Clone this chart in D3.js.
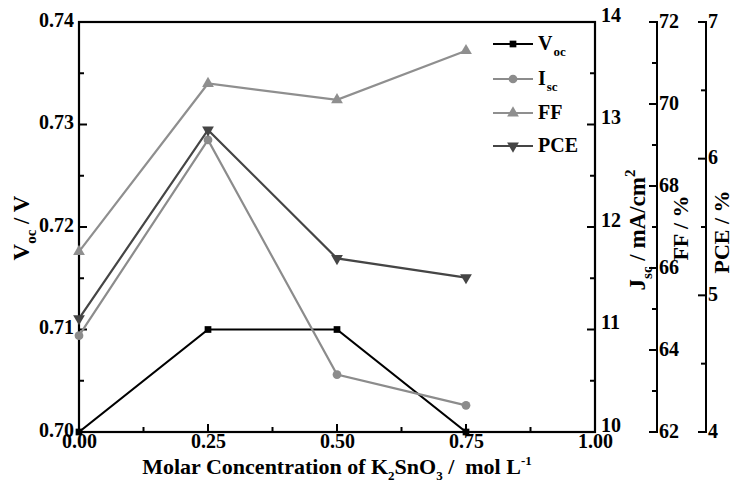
<!DOCTYPE html>
<html><head><meta charset="utf-8">
<script src="https://cdn.jsdelivr.net/npm/d3@7/dist/d3.min.js"></script>
<style>
body{margin:0;background:#fff;}
text{font-family:"Liberation Serif","Times New Roman",serif;font-weight:bold;}
</style></head>
<body><svg id="c" width="734" height="485"></svg>
<script>
const conc = [0.00, 0.25, 0.50, 0.75];
const voc = [0.700, 0.710, 0.710, 0.700];
const jsc = [10.94, 12.85, 10.56, 10.26];
const ff = [66.4, 70.5, 70.1, 71.3];
const pce = [4.83, 6.21, 5.27, 5.13];
const xTicks = [0, 0.25, 0.5, 0.75, 1.0];
const vocTicks = [0.70, 0.71, 0.72, 0.73, 0.74];
const jscTicks = [10, 11, 12, 13, 14];
const ffTicks = [62, 64, 66, 68, 70, 72];
const pceTicks = [4, 5, 6, 7];

const svg = d3.select("#c");
const L = 79, R = 595, T = 22, B = 432;
const FS = 20;
const x = d3.scaleLinear().domain([0, 1]).range([L, R]);
const yV = d3.scaleLinear().domain([0.70, 0.74]).range([B, T]);
const yJ = d3.scaleLinear().domain([10, 14]).range([B, T]);
const yF = d3.scaleLinear().domain([62, 72]).range([B, T]);
const yP = d3.scaleLinear().domain([4, 7]).range([B, T]);
const ffX = 657, pceX = 706;

function styleAxis(g, fs) {
  g.select(".domain").remove();
  g.selectAll(".tick line").remove();
  g.selectAll(".tick text").attr("font-size", fs).attr("fill", "#000").attr("font-family", "Liberation Serif").attr("font-weight", "bold");
}
function tickLine(x1, y1, x2, y2) {
  svg.append("line").attr("x1", x1).attr("y1", y1).attr("x2", x2).attr("y2", y2).attr("stroke", "#000").attr("stroke-width", 2);
}

// bottom axis: ticks inward
const gx = svg.append("g").attr("transform", `translate(0,${B})`)
  .call(d3.axisBottom(x).tickValues(xTicks).tickFormat(d3.format(".2f")).tickSize(0).tickPadding(2));
styleAxis(gx, FS);
xTicks.forEach(v => tickLine(x(v), B, x(v), B - 8));
[0.125, 0.375, 0.625, 0.875].forEach(v => tickLine(x(v), B, x(v), B - 5));

// left axis
const gy = svg.append("g").attr("transform", `translate(${L},0)`)
  .call(d3.axisLeft(yV).tickValues(vocTicks).tickFormat(d3.format(".2f")).tickSize(0).tickPadding(5));
styleAxis(gy, FS);
gy.selectAll(".tick text").attr("dy", "0.2em");
vocTicks.forEach(v => tickLine(L, yV(v), L + 8, yV(v)));
[0.705, 0.715, 0.725, 0.735].forEach(v => tickLine(L, yV(v), L + 5, yV(v)));

// right Jsc axis
const gj = svg.append("g").attr("transform", `translate(${R},0)`)
  .call(d3.axisRight(yJ).tickValues(jscTicks).tickFormat(d3.format("d")).tickSize(0).tickPadding(6));
styleAxis(gj, FS);
gj.selectAll(".tick text").attr("dy", "-0.05em");
jscTicks.forEach(v => tickLine(R, yJ(v), R - 8, yJ(v)));
[10.5, 11.5, 12.5, 13.5].forEach(v => tickLine(R, yJ(v), R - 5, yJ(v)));

// frame
svg.append("rect").attr("x", L).attr("y", T).attr("width", R - L).attr("height", B - T)
  .attr("fill", "none").attr("stroke", "#000").attr("stroke-width", 2.2);

// FF axis
tickLine(ffX, T - 1, ffX, B + 1);
const gf = svg.append("g").attr("transform", `translate(${ffX},0)`)
  .call(d3.axisRight(yF).tickValues(ffTicks).tickFormat(d3.format("d")).tickSize(0).tickPadding(2));
styleAxis(gf, FS);
gf.selectAll(".tick text").attr("dy", "0.25em");
ffTicks.forEach(v => tickLine(ffX, yF(v), ffX - 8, yF(v)));
[63, 65, 67, 69, 71].forEach(v => tickLine(ffX, yF(v), ffX - 5, yF(v)));

// PCE axis
tickLine(pceX, T - 1, pceX, B + 1);
const gp = svg.append("g").attr("transform", `translate(${pceX},0)`)
  .call(d3.axisRight(yP).tickValues(pceTicks).tickFormat(d3.format("d")).tickSize(0).tickPadding(2));
styleAxis(gp, FS);
gp.selectAll(".tick text").attr("dy", "0.25em");
pceTicks.forEach(v => tickLine(pceX, yP(v), pceX - 8, yP(v)));
[4.5, 5.5, 6.5].forEach(v => tickLine(pceX, yP(v), pceX - 5, yP(v)));

// series
const series = [
  {name: "V", sub: "oc", vals: voc, y: yV, color: "#000000", sym: d3.symbolSquare, size: 45, rot: 0},
  {name: "I", sub: "sc", vals: jsc, y: yJ, color: "#8c8c8c", sym: d3.symbolCircle, size: 60, rot: 0},
  {name: "FF", sub: "", vals: ff, y: yF, color: "#8f8f8f", sym: d3.symbolTriangle, size: 60, rot: 0},
  {name: "PCE", sub: "", vals: pce, y: yP, color: "#454545", sym: d3.symbolTriangle, size: 60, rot: 180}
];
const line = s => d3.line().x((d, i) => x(conc[i])).y(d => s.y(d));
series.forEach(s => {
  svg.append("path").datum(s.vals).attr("d", line(s)).attr("fill", "none")
    .attr("stroke", s.color).attr("stroke-width", 2.2);
  svg.selectAll(null).data(s.vals).enter().append("path")
    .attr("d", d3.symbol().type(s.sym).size(s.size))
    .attr("transform", (d, i) => `translate(${x(conc[i])},${s.y(d)}) rotate(${s.rot})`)
    .attr("fill", s.color);
});

// legend
const legY = [44, 79, 113, 146];
series.forEach((s, i) => {
  const yy = legY[i];
  svg.append("line").attr("x1", 493).attr("x2", 533).attr("y1", yy).attr("y2", yy)
    .attr("stroke", s.color).attr("stroke-width", 2.2);
  svg.append("path").attr("d", d3.symbol().type(s.sym).size(s.size))
    .attr("transform", `translate(513,${yy}) rotate(${s.rot})`).attr("fill", s.color);
  const t = svg.append("text").attr("x", 538).attr("y", yy + 6).attr("font-size", 20).attr("fill", "#000");
  t.append("tspan").text(s.name);
  if (s.sub) t.append("tspan").attr("font-size", 13).attr("dy", 6).attr("dx", 1).text(s.sub);
});

// axis titles
const xt = svg.append("text").attr("x", 337).attr("y", 474).attr("text-anchor", "middle").attr("font-size", 22);
xt.append("tspan").text("Molar Concentration of K");
xt.append("tspan").attr("font-size", 13).attr("dy", 6).text("2");
xt.append("tspan").attr("dy", -6).text("SnO");
xt.append("tspan").attr("font-size", 13).attr("dy", 6).text("3");
xt.append("tspan").attr("dy", -6).attr("xml:space", "preserve").text(" /  mol L");
xt.append("tspan").attr("font-size", 13).attr("dy", -9).text("-1");

const yt = svg.append("text").attr("transform", "translate(29,228) rotate(-90)").attr("text-anchor", "middle").attr("font-size", 23);
yt.append("tspan").text("V");
yt.append("tspan").attr("font-size", 15).attr("dy", 7).text("oc");
yt.append("tspan").attr("dy", -7).text(" / V");

const jt = svg.append("text").attr("transform", "translate(645,230) rotate(-90)").attr("text-anchor", "middle").attr("font-size", 23);
jt.append("tspan").text("J");
jt.append("tspan").attr("font-size", 15).attr("dy", 7).text("sc");
jt.append("tspan").attr("dy", -7).text(" / mA/cm");
jt.append("tspan").attr("font-size", 15).attr("dy", -10).text("2");

svg.append("text").attr("transform", "translate(688,228) rotate(-90)").attr("text-anchor", "middle").attr("font-size", 22).text("FF / %");
svg.append("text").attr("transform", "translate(729,232) rotate(-90)").attr("text-anchor", "middle").attr("font-size", 22).text("PCE / %");
</script></body></html>
